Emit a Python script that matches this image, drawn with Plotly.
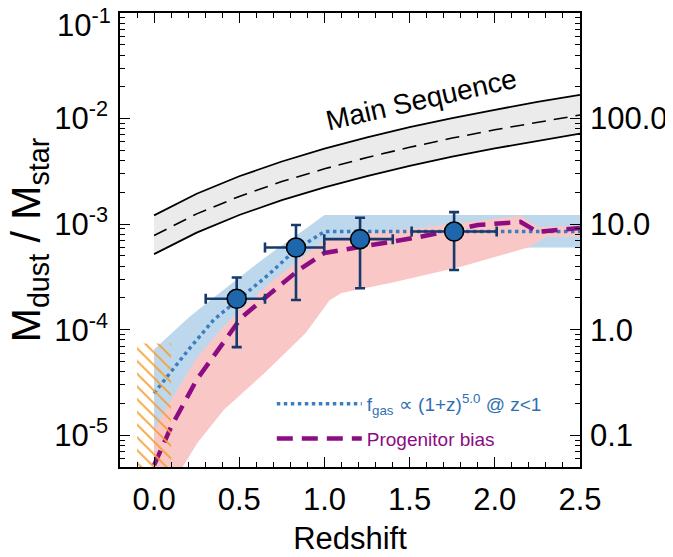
import numpy as np
import plotly.graph_objects as go

# ---------------- data ----------------
# Main-sequence band
ms_z   = [0.0, 0.25, 0.5, 0.75, 1.0, 1.25, 1.5, 1.75, 2.0, 2.25, 2.5]
ms_mid = [7.8e-4, 1.25e-3, 1.83e-3, 2.53e-3, 3.34e-3, 4.28e-3, 5.34e-3, 6.53e-3, 7.83e-3, 9.27e-3, 1.08e-2]
ms_hi  = [1.21e-3, 1.94e-3, 2.84e-3, 3.92e-3, 5.18e-3, 6.63e-3, 8.28e-3, 1.01e-2, 1.21e-2, 1.44e-2, 1.68e-2]
ms_lo  = [5.2e-4, 8.3e-4, 1.22e-3, 1.69e-3, 2.23e-3, 2.85e-3, 3.56e-3, 4.35e-3, 5.22e-3, 6.18e-3, 7.2e-3]

# f_gas model range (blue band)
blue_hi_z = [0.0, 0.1, 0.2, 0.3, 0.4, 0.5, 0.6, 0.7, 0.8, 0.9, 1.0, 2.5]
blue_hi   = [6.5e-5, 9.1e-5, 1.29e-4, 1.74e-4, 2.34e-4, 3.16e-4, 4.17e-4, 5.5e-4, 7.1e-4, 9.3e-4, 1.22e-3, 1.22e-3]
blue_lo_z = [0.0, 0.5, 0.85, 1.0, 2.5]
blue_lo   = [5e-6, 1.2e-4, 4.0e-4, 6.0e-4, 6.0e-4]

# progenitor-bias range (pink band)
pink_hi_z = [0.0, 0.1, 0.25, 0.4, 0.55, 0.7, 0.85, 1.0, 1.3, 1.6, 1.9, 2.15, 2.25, 2.5]
pink_hi   = [1.12e-5, 2.16e-5, 5.4e-5, 1.04e-4, 1.8e-4, 2.96e-4, 4.58e-4, 7.1e-4, 8.43e-4, 9.4e-4, 1.07e-3, 1.2e-3, 9.4e-4, 9.6e-4]
pink_lo_z = [0.0, 0.13, 0.255, 0.41, 0.65, 0.89, 1.03, 1.1, 1.4, 1.8, 2.21, 2.3, 2.5]
pink_lo   = [3e-6, 4e-6, 8.5e-6, 1.74e-5, 3.9e-5, 9.3e-5, 1.9e-4, 2.22e-4, 2.8e-4, 3.94e-4, 6.1e-4, 7.6e-4, 7.6e-4]

# f_gas ∝ (1+z)^5 curve (dotted)
fgas_z = [0.0, 0.1, 0.2, 0.35, 0.5, 0.67, 0.83, 1.0, 2.5]
fgas   = [2.5e-5, 4.0e-5, 6.4e-5, 1.24e-4, 1.95e-4, 3.3e-4, 5.7e-4, 8.5e-4, 8.5e-4]

# progenitor bias curve (dashed)
prog_z = [0.0, 0.1, 0.25, 0.43, 0.51, 0.63, 0.85, 1.0, 1.3, 1.56, 1.9, 2.15, 2.25, 2.5]
prog   = [5.2e-6, 1.2e-5, 3.35e-5, 8.55e-5, 1.29e-4, 1.88e-4, 3.68e-4, 5.33e-4, 6.35e-4, 7.56e-4, 9.8e-4, 1.05e-3, 8.44e-4, 9.2e-4]

# local constraint (hatched box)
hatch_z = [-0.1, 0.1]
hatch_y = [4e-6, 7.4e-5]

# stacked measurements
obs_z    = [0.485, 0.833, 1.209, 1.761]
obs_zlo  = [0.303, 0.651, 0.999, 1.512]
obs_zhi  = [0.651, 0.999, 1.401, 2.011]
obs_y    = [1.96e-4, 6.0e-4, 7.2e-4, 8.5e-4]
obs_ylo  = [6.84e-5, 1.91e-4, 2.47e-4, 3.68e-4]
obs_yhi  = [3.12e-4, 9.8e-4, 1.15e-3, 1.30e-3]

# axis ticks
x_ticks = [0.0, 0.5, 1.0, 1.5, 2.0, 2.5]
y_ticks = [1e-5, 1e-4, 1e-3, 1e-2, 1e-1]
y_ticktext = ["10<sup>-5</sup>", "10<sup>-4</sup>", "10<sup>-3</sup>", "10<sup>-2</sup>", "10<sup>-1</sup>"]
y2_ticks = [0.1, 1.0, 10.0, 100.0]
y2_ticktext = ["0.1", "1.0", "10.0", "100.0"]

# ---------------- figure ----------------
FONT = "Liberation Sans, Arial, Helvetica, sans-serif"
BLUE_BAND = "#bdd7ed"
PINK_BAND = "#f9c7c5"
GRAY_BAND = "#ebebeb"
DOT_COL = "#3a7ec0"
DASH_COL = "#8b0c83"
PT_COL = "#1f67ac"
ERR_COL = "#17396c"
HATCH_COL = "#f5a033"

fig = go.Figure()

def band(xh, yh, xl, yl, color):
    return go.Scatter(x=list(xh) + list(xl)[::-1], y=list(yh) + list(yl)[::-1],
                      fill="toself", fillcolor=color, line=dict(width=0),
                      mode="lines", showlegend=False, hoverinfo="skip")

fig.add_trace(band(blue_hi_z, blue_hi, blue_lo_z, blue_lo, BLUE_BAND))
fig.add_trace(band(pink_hi_z, pink_hi, pink_lo_z, pink_lo, PINK_BAND))
fig.add_trace(band(ms_z, ms_hi, ms_z, ms_lo, GRAY_BAND))

fig.add_trace(go.Scatter(x=ms_z, y=ms_hi, mode="lines", line=dict(color="black", width=1.8),
                         showlegend=False))
fig.add_trace(go.Scatter(x=ms_z, y=ms_lo, mode="lines", line=dict(color="black", width=1.8),
                         showlegend=False))
fig.add_trace(go.Scatter(x=ms_z, y=ms_mid, mode="lines",
                         line=dict(color="black", width=1.6, dash="14px,8px"),
                         showlegend=False))

fig.add_trace(go.Scatter(
    x=fgas_z, y=fgas, mode="lines", line=dict(color=DOT_COL, width=3.5, dash="dot"),
    name='<span style="color:#2f70b3">f<sub>gas</sub> ∝ (1+z)<sup>5.0</sup> @ z&lt;1</span>',
    legendgroup="a"))
fig.add_trace(go.Scatter(
    x=prog_z, y=prog, mode="lines", line=dict(color=DASH_COL, width=4.5, dash="16px,9px"),
    name='<span style="color:#8b0c83">Progenitor bias</span>', legendgroup="b"))

# hatched box
hx = [hatch_z[0], hatch_z[1], hatch_z[1], hatch_z[0], hatch_z[0]]
hy = [hatch_y[0], hatch_y[0], hatch_y[1], hatch_y[1], hatch_y[0]]
fig.add_trace(go.Scatter(x=hx, y=hy, mode="lines", fill="toself",
                         fillcolor="rgba(0,0,0,0)", line=dict(width=0),
                         fillpattern=dict(shape="\\", fgcolor=HATCH_COL, bgcolor="rgba(0,0,0,0)",
                                          size=9, solidity=0.2, fgopacity=1),
                         showlegend=False, hoverinfo="skip"))

# data points
fig.add_trace(go.Scatter(
    x=obs_z, y=obs_y, mode="markers",
    marker=dict(size=19, color=PT_COL, line=dict(color="black", width=1.6)),
    error_x=dict(type="data", symmetric=False,
                 array=[h - c for h, c in zip(obs_zhi, obs_z)],
                 arrayminus=[c - l for l, c in zip(obs_zlo, obs_z)],
                 color=ERR_COL, thickness=2.6, width=5),
    error_y=dict(type="data", symmetric=False,
                 array=[h - c for h, c in zip(obs_yhi, obs_y)],
                 arrayminus=[c - l for l, c in zip(obs_ylo, obs_y)],
                 color=ERR_COL, thickness=2.6, width=5),
    showlegend=False))

# right-axis carrier
fig.add_trace(go.Scatter(x=[None], y=[None], yaxis="y2", showlegend=False, hoverinfo="skip"))

fig.add_annotation(x=1.57, y=np.log10(0.0151), text="Main Sequence", showarrow=False,
                   textangle=-12.8, font=dict(family=FONT, size=28, color="black"))

fig.add_annotation(x=-0.256, y=0.5, xref="paper", yref="paper", text="M<sub>dust</sub> / M<sub>star</sub>",
                   textangle=-90, showarrow=False, borderpad=0,
                   font=dict(family=FONT, size=41, color="black"))

# top tick label, nudged inside the page like the reference
fig.add_annotation(x=-0.017, y=np.log10(y_ticks[-1]) - 0.095, xref="paper", yref="y",
                   xanchor="right", yanchor="middle", text=y_ticktext[-1], showarrow=False,
                   borderpad=0, font=dict(family=FONT, size=31, color="black"))
left_ticktext = y_ticktext[:-1] + [""]

y_minor = [m * 10.0 ** e for e in range(-6, 0) for m in range(2, 10)]
y2_minor = [m * 10.0 ** e for e in range(-2, 3) for m in range(2, 10)]

axis_common = dict(showline=True, linecolor="black", linewidth=1.5, showgrid=False,
                   ticks="inside", tickcolor="black", tickwidth=1.3, ticklen=10,
                   tickfont=dict(family=FONT, size=31, color="black"), zeroline=False,
                   automargin=False)

fig.update_layout(
    width=665, height=549,
    margin=dict(l=112, r=93, t=5, b=90),
    paper_bgcolor="white", plot_bgcolor="white",
    font=dict(family=FONT, color="black"),
    xaxis=dict(range=[-0.2, 2.5], tickvals=x_ticks, tickformat=".1f", mirror="ticks",
               minor=dict(ticks="inside", dtick=0.1, ticklen=5, tickcolor="black", tickwidth=1.2),
               ticklabelstandoff=4,
               title=dict(text="Redshift", font=dict(family=FONT, size=31), standoff=11),
               **axis_common),
    yaxis=dict(type="log", range=[np.log10(5e-6), -1], tickvals=y_ticks, ticktext=left_ticktext,
               minor=dict(ticks="inside", tickvals=y_minor, ticklen=5, tickcolor="black", tickwidth=1.2),
               ticklabelstandoff=4,
               **axis_common),
    yaxis2=dict(type="log", range=[np.log10(5e-2), 3], overlaying="y", side="right",
                tickvals=y2_ticks, ticktext=y2_ticktext,
                minor=dict(ticks="inside", tickvals=y2_minor, ticklen=5, tickcolor="black", tickwidth=1.2),
                ticklabelstandoff=2,
                **axis_common),
    legend=dict(x=0.33, y=0.181, xanchor="left", yanchor="top", bgcolor="rgba(0,0,0,0)",
                font=dict(family=FONT, size=19), itemwidth=85, tracegroupgap=7),
)

fig.write_html("out.html")
